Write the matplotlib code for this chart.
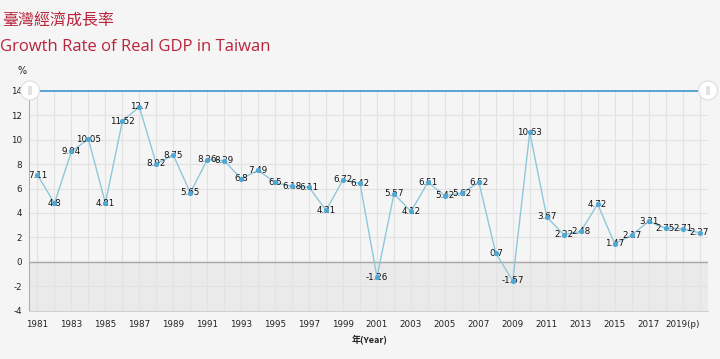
import matplotlib.pyplot as plt
from matplotlib.patches import Circle, Rectangle

plt.rcParams["axes.unicode_minus"] = False

years = [str(y) for y in range(1981, 2019)] + ["2019(p)", "2020(f)"]
growth = [7.11, 4.8, 9.04, 10.05, 4.81, 11.52, 12.7, 8.02, 8.75, 5.65,
          8.36, 8.29, 6.8, 7.49, 6.5, 6.18, 6.11, 4.21, 6.72, 6.42,
          -1.26, 5.57, 4.12, 6.51, 5.42, 5.62, 6.52, 0.7, -1.57, 10.63,
          3.67, 2.22, 2.48, 4.72, 1.47, 2.17, 3.31, 2.75, 2.71, 2.37]
labels = ["7.11", "4.8", "9.04", "10.05", "4.81", "11.52", "12.7", "8.02", "8.75", "5.65",
          "8.36", "8.29", "6.8", "7.49", "6.5", "6.18", "6.11", "4.21", "6.72", "6.42",
          "-1.26", "5.57", "4.12", "6.51", "5.42", "5.62", "6.52", "0.7", "-1.57", "10.63",
          "3.67", "2.22", "2.48", "4.72", "1.47", "2.17", "3.31", "2.75", "2.71", "2.37"]

bg = "#f5f5f5"
red = "#b8243c"

fig = plt.figure(figsize=(7.2, 3.59), dpi=100, facecolor=bg)
ax = fig.add_axes([29 / 720, 1 - 310.5 / 359, 679 / 720, 219.5 / 359])
ax.set_facecolor(bg)

x = list(range(len(years)))
ax.set_xlim(-0.5, len(years) - 0.5)
ax.set_ylim(-4, 14)

# negative zone shading
ax.axhspan(-4, 0, color="#eaeaea", zorder=0)
ax.axhline(0, color="#a8a8a8", lw=1, zorder=1)

# grid
for i in x:
    ax.axvline(i, color="#e2e2e2", lw=0.8, zorder=0.5)
for yv in range(-4, 14, 2):
    ax.axhline(yv, color="#e2e2e2", lw=0.8, zorder=0.5)

ax.plot(x, growth, color="#8fc7dc", lw=1, zorder=2)
ax.scatter(x, growth, s=14, color="#4fa8d4", zorder=4, linewidths=0)
for xi, yi, lb in zip(x, growth, labels):
    ax.text(xi, yi, lb, ha="center", va="center", fontsize=6.3,
            color="#111111", zorder=3)

# navigator line at top with handles
ax.axhline(14, color="#4a9bd0", lw=1.3, zorder=5, clip_on=False)
for hx in (30, 708):
    fig.patches.append(Circle((hx, 359 - 90.5), 9.5, transform=None,
                              facecolor="white", edgecolor="#dddddd", lw=0.8, zorder=10))
    fig.patches.append(Rectangle((hx - 2, 359 - 90.5 - 4.5), 4, 9, transform=None,
                                 facecolor="#e2e2e2", edgecolor="none", zorder=11))

ax.set_xticks(x[::2])
ax.set_xticklabels(years[::2])
ax.set_yticks(range(-4, 16, 2))
ax.tick_params(axis="both", length=0, labelsize=6.3, colors="#222222")
ax.tick_params(axis="y", pad=5)
ax.tick_params(axis="x", pad=7)
for s in ax.spines.values():
    s.set_visible(False)
ax.spines["left"].set_visible(True)
ax.spines["left"].set_color("#b0b0b0")
ax.spines["bottom"].set_visible(True)
ax.spines["bottom"].set_color("#d0d0d0")

fig.text(22 / 720, 1 - 71 / 359, "%", fontsize=7, color="#222222", ha="center", va="center")
fig.text(2 / 720, 1 - 21 / 359, "臺灣經濟成長率", fontsize=11.5, color=red,
         family=["Noto Sans CJK TC", "DejaVu Sans"], ha="left", va="center")
fig.text(0, 1 - 47 / 359, "Growth Rate of Real GDP in Taiwan", fontsize=12, color=red,
         family="Open Sans", ha="left", va="center")
fig.text(370 / 720, 1 - 339 / 359, "年(Year)", fontsize=6.5, fontweight="bold",
         family=["Noto Sans CJK TC", "DejaVu Sans"], color="#222222", ha="center", va="center")

fig.savefig("out.png", dpi=100, facecolor=bg)
